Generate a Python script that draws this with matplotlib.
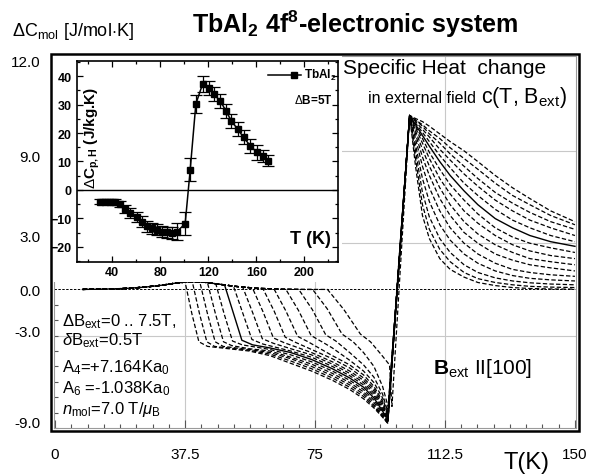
import matplotlib
matplotlib.use("Agg")
import matplotlib.pyplot as plt
from matplotlib.patches import Rectangle
from matplotlib.ticker import MultipleLocator, FixedLocator

plt.rcParams['font.family'] = ['Liberation Sans', 'DejaVu Sans']
plt.rcParams['mathtext.fontset'] = 'custom'
plt.rcParams['mathtext.rm'] = 'Liberation Sans'
plt.rcParams['mathtext.it'] = 'Liberation Sans:italic'
plt.rcParams['mathtext.bf'] = 'Liberation Sans:bold'

# ---------------- data: main panel ----------------
fields = [7.5, 7.0, 6.5, 6.0, 5.5, 5.0, 4.5, 4.0, 3.5, 3.0, 2.5, 2.0, 1.5, 1.0, 0.5]

base_T = [8, 14, 20, 26, 31, 35, 39, 43, 47, 52, 58, 65, 72, 78]
base_v = [0.0, 0.02, 0.06, 0.15, 0.28, 0.42, 0.5, 0.47, 0.35, 0.2, 0.08, 0.02, 0.0, 0.0]

low_T = [
    [37.5, 39.5, 41.5, 44, 50, 56, 62, 68, 74, 80, 85, 89, 92, 94.5, 96],
    [39.6, 41.7, 43.8, 46, 50, 56, 62, 68, 74, 80, 85, 89, 92, 94.5, 96],
    [41.8, 44.0, 46.2, 48.5, 56, 62, 68, 74, 80, 85, 89, 92, 94.5, 96],
    [44.0, 46.3, 48.6, 51, 56, 62, 68, 74, 80, 85, 89, 92, 94.5, 96],
    [46.4, 48.8, 51.2, 54, 62, 68, 74, 80, 85, 89, 92, 94.5, 96],
    [48.9, 51.4, 53.9, 57, 62, 68, 74, 80, 85, 89, 92, 94.5, 96],
    [51.5, 54.1, 56.8, 60, 68, 74, 80, 85, 89, 92, 94.5, 96],
    [54.2, 57.0, 59.8, 63, 68, 74, 80, 85, 89, 92, 94.5, 96],
    [57.0, 60.0, 63.0, 66, 74, 80, 85, 89, 92, 94.5, 96],
    [60.0, 63.2, 66.4, 69.5, 74, 80, 85, 89, 92, 94.5, 96],
    [63.2, 66.6, 70.0, 73, 80, 85, 89, 92, 94.5, 96],
    [66.6, 70.2, 73.9, 77, 80, 85, 89, 92, 94.5, 96],
    [70.3, 74.2, 78.1, 81, 85, 89, 92, 94.5, 96],
    [74.3, 78.5, 82.8, 86, 89, 92, 94.5, 96.2],
    [78.6, 83.3, 88.1, 91, 94, 96.5, 97.2],
]
low_v = [
    [0.5, -1.6, -3.4, -3.7, -3.85, -4.0, -4.3, -4.8, -5.3, -5.9, -6.5, -7.1, -7.7, -8.3, -8.7],
    [0.5, -1.6, -3.4, -3.7, -3.8, -3.95, -4.2, -4.65, -5.15, -5.75, -6.35, -6.95, -7.6, -8.25, -8.7],
    [0.45, -1.6, -3.4, -3.7, -3.9, -4.1, -4.5, -5.0, -5.6, -6.2, -6.8, -7.5, -8.2, -8.65],
    [0.42, -1.6, -3.4, -3.65, -3.85, -4.0, -4.4, -4.85, -5.45, -6.05, -6.65, -7.35, -8.1, -8.6],
    [0.35, -1.6, -3.35, -3.6, -3.9, -4.25, -4.7, -5.3, -5.9, -6.5, -7.2, -8.0, -8.55],
    [0.3, -1.5, -3.3, -3.6, -3.8, -4.1, -4.55, -5.15, -5.75, -6.35, -7.05, -7.9, -8.5],
    [0.2, -1.5, -3.25, -3.55, -4.0, -4.4, -5.0, -5.6, -6.2, -6.9, -7.8, -8.45],
    [0.12, -1.5, -3.2, -3.5, -3.85, -4.25, -4.85, -5.45, -6.05, -6.75, -7.7, -8.4],
    [0.07, -1.45, -3.15, -3.45, -4.1, -4.7, -5.3, -5.9, -6.6, -7.55, -8.35],
    [0.04, -1.4, -3.1, -3.45, -3.9, -4.5, -5.1, -5.75, -6.45, -7.4, -8.3],
    [0.02, -1.4, -3.05, -3.4, -4.3, -4.9, -5.55, -6.3, -7.25, -8.2],
    [0.0, -1.35, -3.0, -3.4, -3.8, -4.6, -5.3, -6.05, -7.05, -8.1],
    [0.0, -1.3, -2.95, -3.35, -4.1, -4.9, -5.7, -6.8, -7.95],
    [0.0, -1.25, -2.9, -3.4, -4.1, -5.0, -6.3, -7.7],
    [0.0, -1.3, -2.9, -3.4, -4.2, -4.9, -7.6],
]

high_T = [102.3, 104, 106, 108, 111, 114, 118, 122, 127, 132, 137, 143, 150]
high_v = [
    [11.3, 11.1, 10.9, 10.6, 10.1, 9.6, 9.0, 8.3, 7.4, 6.6, 5.9, 5.1, 4.4],
    [11.3, 11.0, 10.7, 10.3, 9.8, 9.2, 8.5, 7.8, 6.9, 6.1, 5.5, 4.8, 4.2],
    [11.3, 11.0, 10.6, 10.1, 9.5, 8.8, 8.0, 7.2, 6.3, 5.6, 5.0, 4.4, 3.9],
    [11.3, 10.9, 10.4, 9.9, 9.1, 8.4, 7.5, 6.7, 5.8, 5.1, 4.5, 4.0, 3.5],
    [11.3, 10.8, 10.2, 9.6, 8.7, 7.9, 6.9, 6.1, 5.2, 4.5, 4.0, 3.5, 3.1],
    [11.3, 10.7, 10.0, 9.3, 8.3, 7.4, 6.4, 5.5, 4.6, 4.0, 3.5, 3.1, 2.8],
    [11.3, 10.6, 9.8, 8.9, 7.8, 6.8, 5.8, 4.9, 4.0, 3.4, 3.0, 2.7, 2.4],
    [11.3, 10.5, 9.5, 8.5, 7.2, 6.2, 5.1, 4.3, 3.5, 2.9, 2.5, 2.2, 2.0],
    [11.3, 10.3, 9.1, 8.0, 6.6, 5.5, 4.4, 3.6, 2.9, 2.4, 2.0, 1.8, 1.6],
    [11.3, 10.1, 8.6, 7.4, 5.9, 4.8, 3.7, 3.0, 2.3, 1.9, 1.6, 1.4, 1.2],
    [11.3, 9.8, 8.0, 6.6, 5.1, 4.0, 3.0, 2.3, 1.7, 1.3, 1.1, 0.95, 0.85],
    [11.3, 9.4, 7.2, 5.7, 4.2, 3.2, 2.3, 1.7, 1.2, 0.9, 0.72, 0.62, 0.55],
    [11.3, 9.0, 6.3, 4.7, 3.3, 2.4, 1.6, 1.1, 0.75, 0.55, 0.43, 0.35, 0.3],
    [11.3, 8.5, 5.5, 3.9, 2.6, 1.8, 1.1, 0.7, 0.45, 0.3, 0.2, 0.15, 0.12],
    [11.3, 8.0, 4.8, 3.3, 2.0, 1.3, 0.8, 0.45, 0.25, 0.12, 0.06, 0.03, 0.02],
]

x_ticks = [0, 37.5, 75, 112.5, 150]
x_ticklabels = ['0', '37.5', '75', '112.5', '150']
y_tickpos = [14.87, 8.7, 3.5, 0.0, -2.66, -8.57]
y_ticklabels = ['12.0', '9.0', '3.0', '0.0', '-3.0', '-9.0']
grid_x = [37.5, 75, 112.5]
grid_y = [9, 3, -3]

# ---------------- data: inset ----------------
ins_T = [30, 34.2, 38.3, 42.5, 46.7, 50.8, 55, 60.6, 64.7, 68.9, 73, 77.2, 81.4,
         85.6, 89.7, 93.9, 100.8, 105, 109.7, 115.3, 120.3, 124.4, 130, 134.7,
         139.2, 144.4, 149.4, 155, 160.6, 165.8, 170]
ins_C = [-4.1, -4.1, -4.1, -4.3, -4.9, -6.7, -8.1, -9.6, -11.1, -12.8, -13.5, -13.9,
         -14.6, -14.9, -15.1, -14.6, -11.9, 7.1, 30.2, 37.2, 35.7, 33.7, 31.3, 27.8,
         24.3, 21.4, 18.5, 15.5, 13.2, 12.0, 10.3]
ins_err = [1.0, 1.0, 1.0, 1.0, 1.2, 1.5, 1.8, 1.8, 2.0, 2.0, 2.0, 2.0, 2.0, 2.0,
           2.0, 3.0, 4.0, 4.0, 3.0, 2.8, 2.5, 2.5, 2.5, 2.5, 2.5, 2.5, 2.5, 2.5,
           2.5, 2.2, 2.0]

W, H = 609, 477
fig = plt.figure(figsize=(W / 100, H / 100), dpi=100)


def fx(p):
    return p / W


def fy(p):
    return 1 - p / H


# main axes
ax = fig.add_axes([fx(54), fy(429), (576 - 54) / W, (429 - 57) / H])
ax.set_xlim(-0.3, 150.3)
ax.set_ylim(-9.0, 15.16)
for s in ax.spines.values():
    s.set_color('#9a9a9a')
    s.set_linewidth(0.8)

for gx in grid_x:
    ax.axvline(gx, color='#c8c8c8', lw=0.8, zorder=0)
for gy in grid_y:
    ax.axhline(gy, color='#c8c8c8', lw=0.8, zorder=0)
ax.axhline(0, color='black', lw=0.7, dashes=(2.5, 1.5), zorder=1)

for j in range(len(fields)):
    Ts = low_T[j][0]
    T = [t for t in base_T if t < Ts] + low_T[j] + high_T
    v = [b for t, b in zip(base_T, base_v) if t < Ts] + low_v[j] + high_v[j]
    if fields[j] == 5.0:
        ax.plot(T, v, color='black', lw=1.0, zorder=3)
    else:
        ax.plot(T, v, color='black', lw=0.9, dashes=(3.5, 1.8), zorder=2)

ax.set_xticks(x_ticks)
ax.set_xticklabels(x_ticklabels, fontsize=11)
ax.xaxis.set_minor_locator(MultipleLocator(37.5 / 8))
ax.tick_params(axis='x', which='major', direction='in', length=6, width=0.8,
               pad=14, color='#555555')
ax.tick_params(axis='x', which='minor', direction='in', length=3, width=0.8,
               color='#555555')
ax.set_yticks(y_tickpos)
ax.set_yticklabels(y_ticklabels, fontsize=11)
ax.yaxis.set_minor_locator(MultipleLocator(1.0))
ax.tick_params(axis='y', which='major', direction='in', length=0, pad=10)
ax.tick_params(axis='y', which='minor', direction='in', length=3, width=0.8,
               color='#555555')

# white block behind the inset
fig.add_artist(Rectangle((fx(52.5), fy(283)), (342 - 52.5) / W, (283 - 56) / H,
                         transform=fig.transFigure, facecolor='white',
                         edgecolor='none', zorder=1))
# outer black frame
fig.add_artist(Rectangle((fx(51), fy(432)), (579 - 51) / W, (432 - 55) / H,
                         transform=fig.transFigure, fill=False,
                         edgecolor='black', lw=1.8, zorder=3))

# texts on the main panel
fig.text(fx(12), fy(31), r'$\Delta$C$_{\mathrm{mol}}$ [J/mol$\cdot$K]', fontsize=13,
         ha='left', va='center')
fig.text(fx(192), fy(24), r'TbAl$_{\mathbf{2}}$ 4f$^{\mathbf{8}}$-electronic system',
         fontsize=18, fontweight='bold', ha='left', va='center')
fig.text(fx(343), fy(69), 'Specific Heat  change', fontsize=15, ha='left',
         va='center')
fig.text(fx(368), fy(99), 'in external field', fontsize=11.5, ha='left', va='center')
fig.text(fx(481), fy(97), r'c(T, B$_{\mathrm{ext}}$)', fontsize=15.5, ha='left',
         va='center')
fig.text(fx(433), fy(369), r'$\mathbf{B}_{\mathrm{ext}}$ II[100]', fontsize=15,
         ha='left', va='center')
fig.text(fx(503), fy(463), 'T(K)', fontsize=17, ha='left', va='center')

left_lines = [
    (322, r'$\Delta$B$_{\mathrm{ext}}$=0 .. 7.5T,'),
    (341, r'$\delta$B$_{\mathrm{ext}}$=0.5T'),
    (368, r'A$_4$=+7.164Ka$_0$'),
    (389, r'A$_6$ =-1.038Ka$_0$'),
    (410, r'$n_{\mathrm{mol}}$=7.0 T/$\mu_{\mathrm{B}}$'),
]
for yy, s in left_lines:
    fig.text(fx(62), fy(yy), s, fontsize=12, ha='left', va='center')

# ---------------- inset ----------------
axi = fig.add_axes([fx(77), fy(263), (338 - 77) / W, (263 - 62) / H], zorder=2)
axi.set_xlim(10.8, 228)
axi.set_ylim(-25.3, 45.3)
for s in axi.spines.values():
    s.set_color('black')
    s.set_linewidth(1.2)
axi.axhline(0, color='black', lw=1.0)
axi.errorbar(ins_T, ins_C, yerr=ins_err, fmt='s-', color='black', ms=4.5,
             lw=1.1, elinewidth=0.9, capsize=4, capthick=0.9)
axi.xaxis.set_major_locator(FixedLocator([40, 80, 120, 160, 200]))
axi.xaxis.set_minor_locator(MultipleLocator(20))
axi.yaxis.set_major_locator(MultipleLocator(10))
axi.yaxis.set_minor_locator(MultipleLocator(5))
axi.tick_params(which='both', direction='in', top=True, right=True, width=0.9)
axi.tick_params(which='major', length=4)
axi.tick_params(which='minor', length=2.5)
axi.tick_params(axis='x', pad=3)
axi.tick_params(axis='y', pad=4)
for lab in axi.get_xticklabels() + axi.get_yticklabels():
    lab.set_fontsize(9)
    lab.set_fontweight('bold')

axi.text(0.06, 0.62, r'$\Delta$C$_{\mathbf{p,H}}$ (J/kg.K)', transform=axi.transAxes,
         rotation=90, fontsize=11, fontweight='bold', ha='center', va='center')
axi.text(0.895, 0.115, 'T (K)', transform=axi.transAxes, fontsize=13,
         fontweight='bold', ha='center', va='center')
axi.plot([0.73, 0.86], [0.93, 0.93], transform=axi.transAxes, color='black', lw=1.1)
axi.plot([0.83], [0.93], 's', transform=axi.transAxes, color='black', ms=4.5)
axi.text(0.87, 0.935, r'TbAl$_{\mathbf{2}}$', transform=axi.transAxes, fontsize=8.5,
         fontweight='bold', ha='left', va='center')
axi.text(0.83, 0.81, r'$\Delta$B=5T', transform=axi.transAxes, fontsize=8.5,
         fontweight='bold', ha='left', va='center')

fig.savefig('out.png', dpi=100)
